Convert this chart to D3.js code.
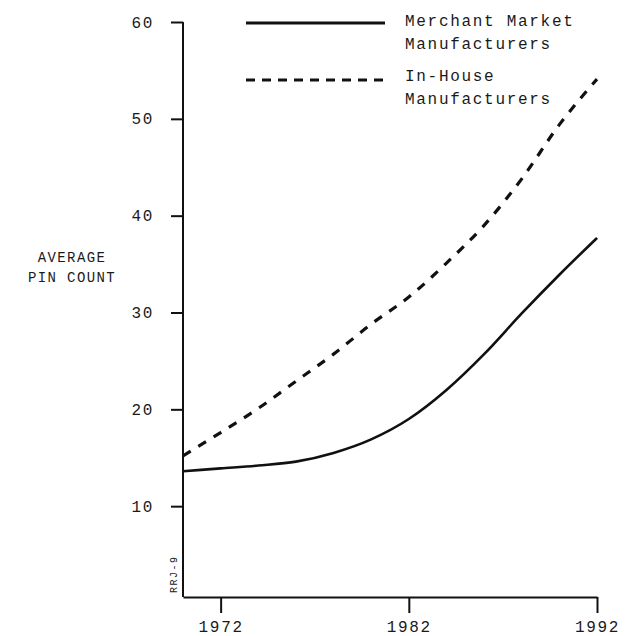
<!DOCTYPE html>
<html>
<head>
<meta charset="utf-8">
<script src="https://cdn.jsdelivr.net/npm/d3@7"></script>
<style>
  html, body { margin: 0; padding: 0; background: #fff; }
  svg { display: block; }
  text { font-family: "Liberation Mono", "DejaVu Sans Mono", monospace; fill: #1a1a1a; }
</style>
</head>
<body>
<svg id="chart" width="635" height="636"></svg>
<script>
// Average pin count per package, 1970-1992
const years    = [1970, 1972, 1974, 1976, 1978, 1980, 1982, 1984, 1986, 1988, 1990, 1992];
const merchant = [13.6, 13.9, 14.2, 14.6, 15.5, 16.9, 19.0, 22.0, 25.7, 29.9, 33.9, 37.7];
const inHouse  = [15.2, 17.6, 20.1, 22.9, 25.7, 28.8, 31.6, 35.1, 39.0, 43.8, 49.4, 54.1];

const xTickYears  = [1972, 1982, 1992];
const yTickValues = [10, 20, 30, 40, 50, 60];

const seriesLabels = [["Merchant Market", "Manufacturers"], ["In-House", "Manufacturers"]];
const yTitleLines  = ["AVERAGE", "PIN COUNT"];
const figureTag    = "RRJ-9";

const svg = d3.select("#chart");
const W = 635, H = 636;
svg.append("rect").attr("width", W).attr("height", H).attr("fill", "#fff");

const plotLeft = 183, plotRight = 597, plotBottom = 597;

const x = d3.scaleLinear().domain([1970, 1992]).range([plotLeft, plotRight]);
const y = d3.scaleLinear().domain([0, 60]).range([603, 22]);

const ink = "#111";

// x axis
const xAxis = svg.append("g")
  .attr("transform", `translate(0,${plotBottom})`)
  .call(d3.axisBottom(x).tickValues(xTickYears).tickSizeInner(16).tickSizeOuter(0)
        .tickPadding(8).tickFormat(d3.format("d")));
xAxis.select(".domain").attr("stroke", ink).attr("stroke-width", 2);
xAxis.selectAll(".tick line").attr("stroke", ink).attr("stroke-width", 2);
xAxis.selectAll(".tick text")
  .style("font-family", '"Liberation Mono", monospace')
  .style("font-size", "16px").style("letter-spacing", "1.7px").attr("fill", "#1a1a1a");

// y axis
const yAxis = svg.append("g")
  .attr("transform", `translate(${plotLeft},0)`)
  .call(d3.axisLeft(y).tickValues(yTickValues).tickSizeInner(12).tickSizeOuter(0)
        .tickPadding(17).tickFormat(d3.format("d")));
yAxis.select(".domain").remove();
yAxis.selectAll(".tick line").attr("stroke", ink).attr("stroke-width", 2);
yAxis.selectAll(".tick text")
  .style("font-family", '"Liberation Mono", monospace')
  .style("font-size", "16px").style("letter-spacing", "1.7px").attr("fill", "#1a1a1a");
svg.append("line")
  .attr("x1", plotLeft).attr("x2", plotLeft)
  .attr("y1", y(60)).attr("y2", plotBottom)
  .attr("stroke", ink).attr("stroke-width", 2);

// y axis title
const yTitle = svg.append("text")
  .attr("text-anchor", "middle")
  .style("font-size", "14px").style("letter-spacing", "1.4px");
yTitle.selectAll("tspan").data(yTitleLines).join("tspan")
  .attr("x", 72).attr("y", (d, i) => 262 + i * 20).text(d => d);

// figure tag along the lower y axis
svg.append("text")
  .attr("transform", "translate(177,593) rotate(-90)")
  .style("font-size", "10px").style("letter-spacing", "1.5px")
  .attr("fill", "#666").text(figureTag);

// series
const line = d3.line()
  .x((d, i) => x(years[i]))
  .y(d => y(d))
  .curve(d3.curveMonotoneX);

const series = [
  { values: merchant, dash: null, width: 2.6 },
  { values: inHouse, dash: "9,9", width: 3.2 }
];

svg.selectAll("path.series").data(series).join("path")
  .attr("class", "series")
  .attr("d", d => line(d.values))
  .attr("fill", "none")
  .attr("stroke", ink)
  .attr("stroke-width", d => d.width)
  .attr("stroke-dasharray", d => d.dash);

// legend
const legendRows = [
  { y: 23, textY: 26, labels: seriesLabels[0], s: series[0] },
  { y: 80, textY: 81, labels: seriesLabels[1], s: series[1] }
];
const lg = svg.append("g");
legendRows.forEach(r => {
  lg.append("line")
    .attr("x1", 246).attr("x2", 385).attr("y1", r.y).attr("y2", r.y)
    .attr("stroke", ink).attr("stroke-width", r.s.dash ? 3 : 3)
    .attr("stroke-dasharray", r.s.dash ? "9,7" : null);
  const t = lg.append("text").style("font-size", "16px").style("letter-spacing", "1.7px");
  t.selectAll("tspan").data(r.labels).join("tspan")
    .attr("x", 405).attr("y", (d, i) => r.textY + i * 23).text(d => d);
});
</script>
</body>
</html>
